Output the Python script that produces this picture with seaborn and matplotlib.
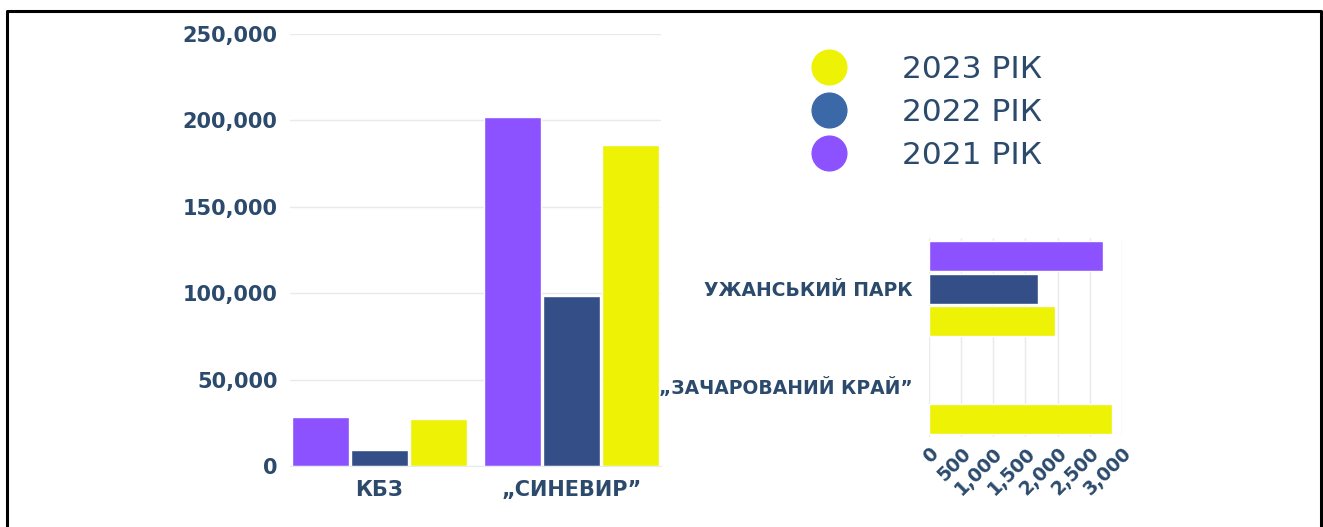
import matplotlib.pyplot as plt
from matplotlib.lines import Line2D
import pandas as pd
import seaborn as sns

# main parks (visitors)
parks_main = ["КБЗ", "„СИНЕВИР”"]
v2021 = [28400, 202000]
v2022 = [9300, 98400]
v2023 = [27200, 185800]

# small parks (no 2021/2022 data for the second one)
parks_small = ["УЖАНСЬКИЙ ПАРК", "„ЗАЧАРОВАНИЙ КРАЙ”"]
s2021 = [2700, None]
s2022 = [1690, None]
s2023 = [1960, 2840]

years = ["2021", "2022", "2023"]
legend_labels = ["2023 РІК", "2022 РІК", "2021 РІК"]
bar_colors = {"2021": "#8c52ff", "2022": "#344f87", "2023": "#eef205"}
legend_colors = ["#eef205", "#3b68a6", "#8c52ff"]
text_col = "#2b4a6c"
grid_col = "#e7eaef"


def to_long(parks, a, b, c):
    rows = []
    for vals, yr in zip([a, b, c], years):
        for p, v in zip(parks, vals):
            rows.append({"park": p, "year": yr, "value": v})
    return pd.DataFrame(rows)


df_main = to_long(parks_main, v2021, v2022, v2023)
df_small = to_long(parks_small, s2021, s2022, s2023)

sns.set_style("white")
plt.rcParams["font.family"] = ["DejaVu Sans"]

fig = plt.figure(figsize=(13.23, 5.27), dpi=100)

# left chart
ax1 = fig.add_axes([290 / 1323, 61 / 527, 371 / 1323, 432 / 527])
sns.barplot(data=df_main, x="park", y="value", hue="year", hue_order=years,
            palette=bar_colors, width=0.92, gap=0.04, saturation=1,
            legend=False, ax=ax1)
ax1.set_ylim(0, 250000)
ax1.set_xlim(-0.465, 1.465)
ax1.set_yticks(range(0, 250001, 50000))
ax1.set_yticklabels([f"{v:,}" for v in range(0, 250001, 50000)])
ax1.yaxis.grid(True, color=grid_col, lw=1)
ax1.set_axisbelow(True)
ax1.set(xlabel="", ylabel="")
ax1.tick_params(axis="y", length=0, pad=9, labelsize=15, labelcolor=text_col)
ax1.tick_params(axis="x", length=0, pad=10, labelsize=15, labelcolor=text_col)
for t in ax1.get_xticklabels() + ax1.get_yticklabels():
    t.set_fontweight("bold")
sns.despine(ax=ax1, left=True)
ax1.spines["bottom"].set_color(grid_col)

# right chart
ax2 = fig.add_axes([929 / 1323, 90 / 527, 193 / 1323, 199 / 527])
sns.barplot(data=df_small, y="park", x="value", hue="year", hue_order=years,
            palette=bar_colors, width=1.0, gap=0.08, saturation=1,
            legend=False, orient="h", ax=ax2)
ax2.set_xlim(0, 3000)
ax2.set_ylim(1.52, -0.52)
ax2.set_xticks(range(0, 3001, 500))
ax2.set_xticklabels([f"{v:,}" for v in range(0, 3001, 500)],
                    rotation=45, ha="right", rotation_mode="anchor")
ax2.xaxis.grid(True, color=grid_col, lw=1)
ax2.set_axisbelow(True)
ax2.set(xlabel="", ylabel="")
ax2.tick_params(axis="y", length=0, pad=12, labelsize=13.5, labelcolor=text_col)
ax2.tick_params(axis="x", length=0, pad=5, labelsize=13.5, labelcolor=text_col)
for t in ax2.get_xticklabels() + ax2.get_yticklabels():
    t.set_fontweight("bold")
sns.despine(ax=ax2, left=True, bottom=True)

# legend with circles
handles = [Line2D([], [], ls="", marker="o", markersize=25, color=c)
           for c in legend_colors]
leg = fig.legend(handles, legend_labels, loc="upper left",
                 bbox_to_anchor=(810 / 1323, 1 - 55 / 527), frameon=False,
                 prop={"family": "DejaVu Sans", "size": 22.5},
                 handlelength=1.2, handletextpad=1.75, labelspacing=0.45,
                 borderpad=0, borderaxespad=0)
for t in leg.get_texts():
    t.set_color(text_col)

# frame around the picture
fig.add_artist(Line2D([7 / 1323, 7 / 1323, 1321 / 1323, 1321 / 1323],
                      [0, 1 - 11 / 527, 1 - 11 / 527, 0],
                      transform=fig.transFigure, color="black", lw=2.2))

fig.savefig("out.png", dpi=100)
